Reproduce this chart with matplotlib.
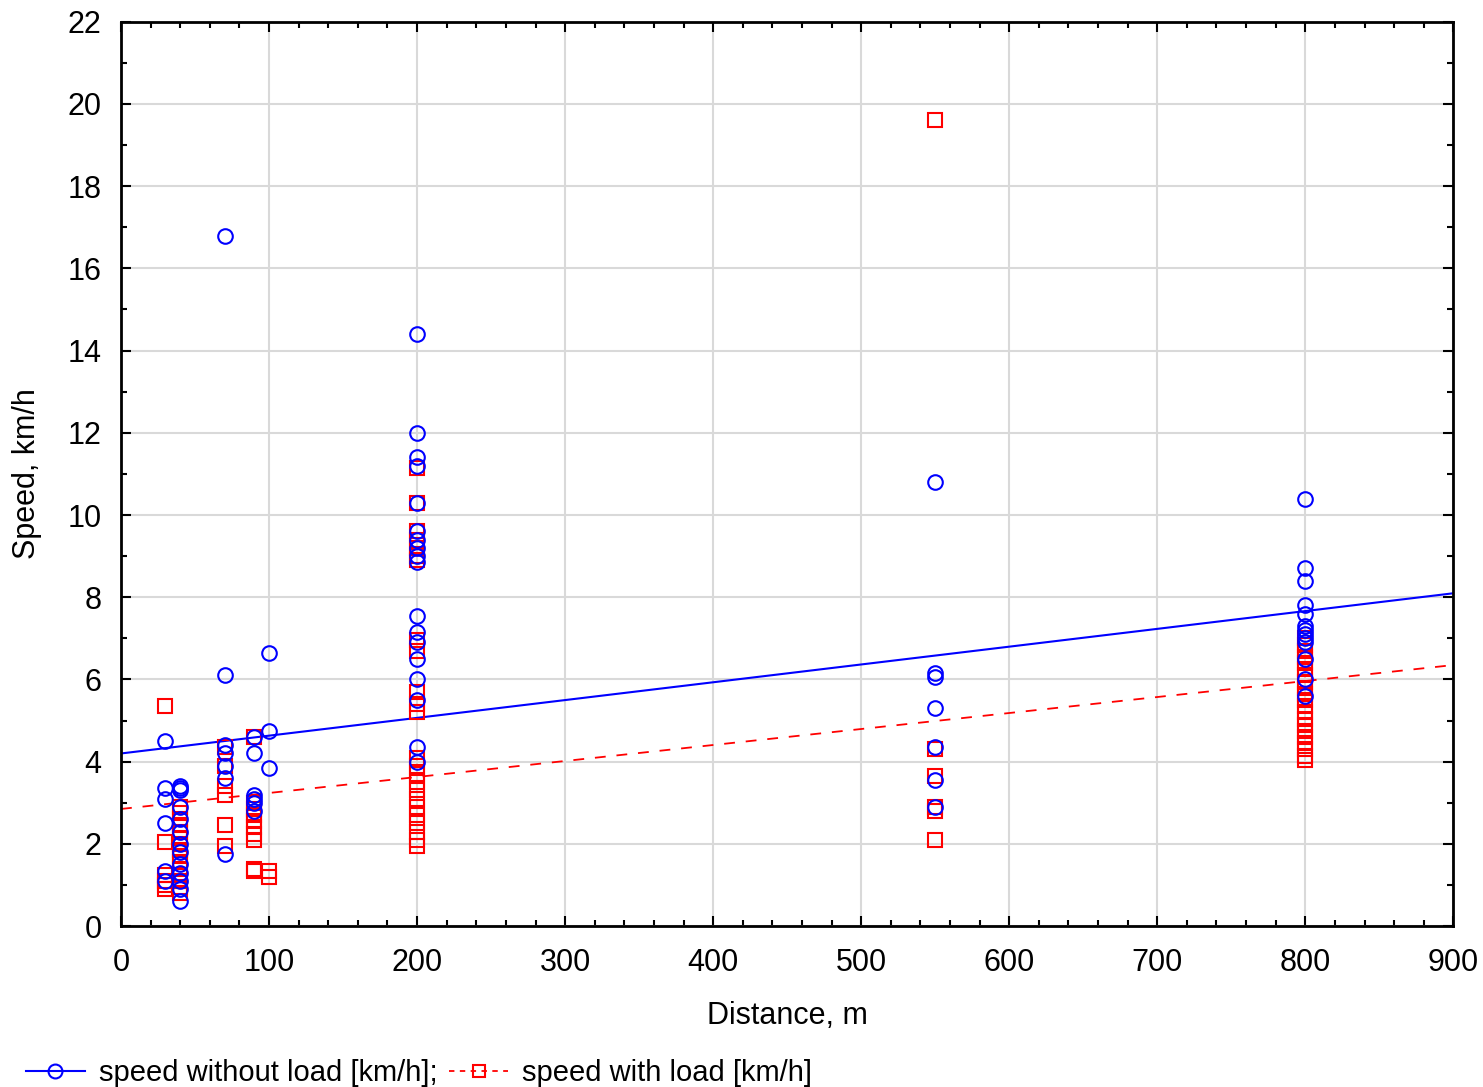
import numpy as np
import matplotlib.pyplot as plt
from matplotlib.ticker import MultipleLocator

plt.rcParams['font.family'] = ['Liberation Sans', 'DejaVu Sans']

# speed without load, km/h, grouped by distance (m)
no_load = {
    30: [4.5, 3.35, 3.1, 2.5, 1.35, 1.1],
    40: [3.4, 3.35, 3.3, 2.9, 2.6, 2.3, 2.0, 1.8, 1.5, 1.3, 1.1, 0.9, 0.6],
    70: [16.8, 6.1, 4.4, 4.2, 3.9, 3.6, 1.75],
    90: [4.6, 4.2, 3.2, 3.1, 3.0, 2.8],
    100: [6.65, 4.75, 3.85],
    200: [14.4, 12.0, 11.4, 11.2, 10.3, 9.6, 9.4, 9.2, 9.0, 8.85, 7.55, 7.15,
          6.9, 6.5, 6.0, 5.5, 4.35, 4.0],
    550: [10.8, 6.15, 6.05, 5.3, 4.35, 3.55, 2.9],
    800: [10.4, 8.7, 8.4, 7.8, 7.6, 7.3, 7.2, 7.1, 7.0, 6.9, 6.5, 6.0, 5.6],
}

# speed with load, km/h
with_load = {
    30: [5.35, 2.05, 1.25, 1.1, 1.0, 0.9],
    40: [2.9, 2.75, 2.6, 2.45, 2.3, 2.15, 2.0, 1.85, 1.7, 1.55, 1.4, 1.25,
         1.1, 0.95, 0.8],
    70: [4.35, 3.9, 3.4, 3.2, 2.45, 1.95],
    90: [4.6, 3.0, 2.85, 2.7, 2.55, 2.4, 2.25, 2.1, 1.4, 1.35],
    100: [1.35, 1.2],
    200: [11.15, 10.3, 9.6, 9.4, 9.2, 9.0, 8.9, 6.95, 6.7, 5.7, 5.4, 5.2, 4.1,
          3.9, 3.7, 3.5, 3.3, 3.1, 2.9, 2.7, 2.5, 2.3, 2.1, 1.95],
    550: [19.6, 4.3, 3.65, 2.9, 2.8, 2.1],
    800: [7.0, 6.85, 6.7, 6.55, 6.4, 6.25, 6.1, 5.95, 5.8, 5.65, 5.5, 5.35,
          5.2, 5.05, 4.9, 4.75, 4.6, 4.45, 4.3, 4.15, 4.05],
}

# linear fits: (intercept, slope)
fit_no_load = (4.2, 0.00433)
fit_with_load = (2.85, 0.00389)


def flatten(groups):
    xs, ys = [], []
    for d, vals in groups.items():
        xs += [d] * len(vals)
        ys += vals
    return np.array(xs), np.array(ys)


fig = plt.figure(figsize=(14.83, 10.87), dpi=100)
ax = fig.add_axes([0.0816, 0.148, 0.8984, 0.832])

xr = np.array([0, 900])

x1, y1 = flatten(no_load)
x2, y2 = flatten(with_load)

ax.plot(xr, fit_with_load[0] + fit_with_load[1] * xr, color='#ff0000',
        lw=1.3, ls=(0, (6, 6)), zorder=2)
ax.plot(xr, fit_no_load[0] + fit_no_load[1] * xr, color='#0000ff',
        lw=1.5, zorder=2)

ax.plot(x2, y2, ls='none', marker='s', ms=10.5, mfc='none', mec='#ff0000',
        mew=1.5, zorder=3)
ax.plot(x1, y1, ls='none', marker='o', ms=10.5, mfc='none', mec='#0000ff',
        mew=1.5, zorder=4)

ax.set_xlim(0, 900)
ax.set_ylim(0, 22)
ax.xaxis.set_major_locator(MultipleLocator(100))
ax.xaxis.set_minor_locator(MultipleLocator(20))
ax.yaxis.set_major_locator(MultipleLocator(2))
ax.yaxis.set_minor_locator(MultipleLocator(1))
ax.tick_params(which='both', direction='in', top=True, right=True,
               labelsize=22)
ax.tick_params(axis='x', pad=16)
ax.tick_params(axis='y', pad=14)
ax.tick_params(which='major', length=7, width=1.5)
ax.tick_params(which='minor', length=4, width=1.5)
ax.grid(True, color='#d9d9d9', lw=1.5, zorder=0)
ax.set_axisbelow(True)
for s in ax.spines.values():
    s.set_linewidth(2)

ax.set_xlabel('Distance, m', fontsize=22, labelpad=16)
ax.set_ylabel('Speed, km/h', fontsize=22, labelpad=18)

h1 = plt.Line2D([], [], color='#0000ff', lw=1.5, marker='o', ms=10,
                mfc='none', mec='#0000ff', mew=1.5)
h2 = plt.Line2D([], [], color='#ff0000', lw=1.3, ls=(0, (3, 3)), marker='s',
                ms=9, mfc='none', mec='#ff0000', mew=1.5)
fig.legend([h1, h2], ['speed without load [km/h];', 'speed with load [km/h]'],
           loc='lower left', bbox_to_anchor=(0.0, -0.024), ncol=2, frameon=False,
           fontsize=21, handlelength=2.0, handletextpad=0.5, columnspacing=0.4)

fig.savefig('out.png', dpi=100)
